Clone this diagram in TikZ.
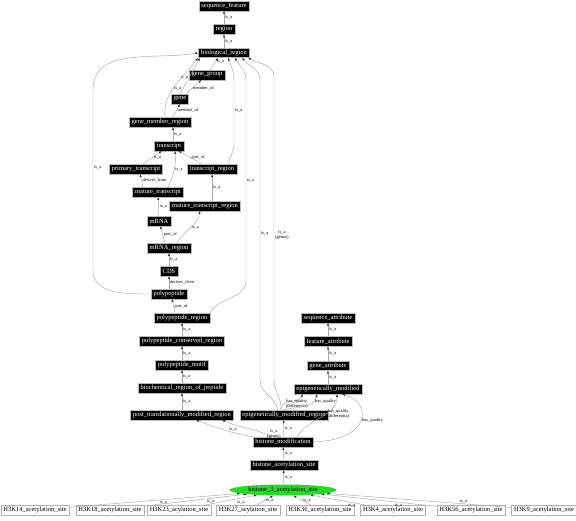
\documentclass[tikz,border=0pt]{standalone}
\usepackage{fontspec}
\setmainfont{Liberation Serif}
\usetikzlibrary{arrows.meta, shapes.geometric, positioning}

\definecolor{edgegray}{gray}{0.66}
\definecolor{hlgreen}{HTML}{22DD22}

\tikzset{
  term/.style={fill=black, draw=gray!55, text=white, font=\fontsize{6.5}{7}\selectfont,
    inner xsep=2.5pt, inner ysep=1pt, minimum height=9.5pt},
  leaf/.style={fill=white, draw=gray!60, text=black, font=\fontsize{6.5}{7}\selectfont,
    inner xsep=2.5pt, inner ysep=1pt, minimum height=9.5pt},
  focus/.style={ellipse, fill=hlgreen, text=black, font=\fontsize{6.5}{7}\selectfont,
    inner sep=0pt, minimum width=107pt, minimum height=11pt},
  conn/.style={color=edgegray, line width=0.45pt, -{Latex[length=3pt,width=2.2pt,color=black!80]}},
  lbl/.style={font=\fontsize{4.5}{5}\selectfont, inner sep=1pt, text=black},
}

\begin{document}
\begin{tikzpicture}[x=1pt, y=1pt]
  \useasboundingbox (0,0) rectangle (576,520);

  % terms of the ontology
  \node (seqf) [term] at (224,514) {sequence\_feature};
  \node (region) [term, below=13.5pt of seqf] {region};
  \node (bioreg) [term, below=13.5pt of region] {biological\_region};
  \node (genegrp) [term] at (207,445) {gene\_group};
  \node (gene) [term] at (180,421) {gene};
  \node (gmr) [term] at (160,398) {gene\_member\_region};
  \node (transcript) [term] at (169,374) {transcript};
  \node (primtr) [term] at (136,351) {primary\_transcript};
  \node (trreg) [term] at (212,351) {transcript\_region};
  \node (mattr) [term] at (158,328) {mature\_transcript};
  \node (mattrreg) [term] at (205,314) {mature\_transcript\_region};
  \node (mrna) [term] at (159,299) {mRNA};
  \node (mrnareg) [term] at (169,272) {mRNA\_region};
  \node (cds) [term] at (169,249) {CDS};
  \node (polyp) [term] at (169,226) {polypeptide};
  \node (ppreg) [term] at (182,202) {polypeptide\_region};
  \node (ppcons) [term] at (182,179) {polypeptide\_conserved\_region};
  \node (ppmotif) [term] at (182,155) {polypeptide\_motif};
  \node (biochem) [term] at (182,132) {biochemical\_region\_of\_peptide};
  \node (ptmr) [term] at (182,105) {post\_translationally\_modified\_region};
  \node (emr) [term] at (284,105) {epigenetically\_modified\_region};
  \node (histmod) [term] at (283,78) {histone\_modification};
  \node (hacs) [term] at (284,55) {histone\_acetylation\_site};
  \node (h3acs) [focus] at (283,30) {histone\_3\_acetylation\_site};

  \node (seqattr) [term] at (328,202) {sequence\_attribute};
  \node (featattr) [term, below=13.5pt of seqattr] {feature\_attribute};
  \node (geneattr) [term, below=14.5pt of featattr] {gene\_attribute};
  \node (epimod) [term, below=13.5pt of geneattr] {epigenetically\_modified};

  % acetylation sites
  \node (k14) [leaf] at (35,10) {H3K14\_acetylation\_site};
  \node (k18) [leaf] at (110,10) {H3K18\_acetylation\_site};
  \node (k23) [leaf] at (179,10) {H3K23\_acylation\_site};
  \node (k27) [leaf] at (248,10) {H3K27\_acylation\_site};
  \node (k36) [leaf] at (320,10) {H3K36\_acetylation\_site};
  \node (k4) [leaf] at (393,10) {H3K4\_acetylation\_site};
  \node (k56) [leaf] at (471,10) {H3K56\_acetylation\_site};
  \node (k9) [leaf] at (544,10) {H3K9\_acetylation\_site};

  \path [conn]
      (region) edge node[lbl,right] {is\_a} (seqf)
      (bioreg) edge node[lbl,right] {is\_a} (region)
      (genegrp) edge node[lbl,right,pos=0.7] {is\_a} ([xshift=-6pt]bioreg.south)
      (gene) edge node[lbl,right,pos=0.4] {member\_of} (genegrp)
      (gene.north) edge node[lbl,left,pos=0.45] {is\_a} ([xshift=-24pt]bioreg.south)
      ([xshift=13pt]gmr.north) edge node[lbl,right] {member\_of} (gene.south)
      ([xshift=5pt]gmr.north) edge[out=95,in=-125] node[lbl,right,pos=0.45] {is\_a} ([xshift=-26pt]bioreg.south)

      ([xshift=4pt]transcript.north) edge node[lbl,right] {is\_a} ([xshift=13pt]gmr.south)
      (primtr) edge node[lbl,right] {is\_a} (transcript)
      (trreg) edge node[lbl,right] {part\_of} (transcript)
      ([xshift=10pt]mattr.north) edge[bend right=15] node[lbl,right] {is\_a} ([xshift=6pt]transcript.south)
      ([xshift=-15pt]mattr.north) edge node[lbl,right] {derives\_from} ([xshift=4pt]primtr.south)
      (mattrreg.north -| trreg) edge node[lbl,right] {is\_a} (trreg)
      (mrna) edge node[lbl,right] {is\_a} (mattr)
      ([xshift=-4pt]mrnareg.north) edge node[lbl,right] {part\_of} (mrna)
      ([xshift=8pt]mrnareg.north) edge[out=60,in=-100] node[lbl,right] {is\_a} ([xshift=-5pt]mattrreg.south)
      (cds) edge node[lbl,right] {is\_a} (mrnareg)
      (polyp) edge node[lbl,right] {derives\_from} (cds)

      ([xshift=-7pt]ppreg.north) edge node[lbl,right] {part\_of} ([xshift=3pt]polyp.south)
      (ppcons) edge node[lbl,right] {is\_a} (ppreg)
      (ppmotif) edge node[lbl,right] {is\_a} (ppcons)
      (biochem) edge node[lbl,right] {is\_a} (ppmotif)
      (ptmr) edge node[lbl,right] {is\_a} (biochem)

      (epimod) edge node[lbl,right] {is\_a} (geneattr)
      (geneattr) edge node[lbl,right] {is\_a} (featattr)
      (featattr) edge node[lbl,right] {is\_a} (seqattr)

      (histmod) edge node[lbl,right] {is\_a} (emr)
      ([xshift=-30pt]histmod.north) edge[bend left=5] node[lbl,above,pos=0.33] {is\_a} ([xshift=14pt]ptmr.south)
      ([xshift=-12pt]histmod.north) edge[out=150,in=-25] node[lbl,align=center,right,pos=0.1] {is\_a\\(genus)} ([xshift=40pt]ptmr.south)
      ([xshift=-4pt]emr.north) edge[out=80,in=-120] node[lbl,align=center,right,pos=0.3] {has\_quality\\(differentia)} ([xshift=-25pt]epimod.south)
      ([xshift=-1pt]emr.north) edge[out=15,in=-100] node[lbl,right,pos=0.8] {has\_quality} ([xshift=-11pt]epimod.south)
      ([xshift=14pt]histmod.north) edge[out=60,in=-90] node[lbl,align=center,right,pos=0.6] {has\_quality\\(differentia)} ([xshift=9pt]epimod.south)

      (hacs) edge node[lbl,right] {is\_a} (histmod)
      (h3acs) edge node[lbl,right] {is\_a} (hacs)

      (k14) edge node[lbl,below,pos=0.55] {is\_a} (h3acs)
      (k18) edge node[lbl,below,pos=0.65] {is\_a} (h3acs)
      (k23) edge node[lbl,below right,pos=0.6] {is\_a} (h3acs)
      (k27) edge node[lbl,right,pos=0.5] {is\_a} (h3acs)
      (k36) edge node[lbl,right,pos=0.5] {is\_a} (h3acs)
      (k4) edge node[lbl,below,pos=0.25] {is\_a} (h3acs)
      (k56) edge node[lbl,below,pos=0.33] {is\_a} (h3acs)
      (k9) edge node[lbl,above,pos=0.26] {is\_a} (h3acs)
      ;

  % long connectors up to biological_region
  \draw [conn] (polyp.west) to[out=180,in=-90] (93,250)
      -- node[lbl,right,pos=0.57] {is\_a} (93,430) to[out=90,in=190] (bioreg.west);
  \draw [conn] ([xshift=-8pt]trreg.north east) to[out=90,in=-90] (234,375)
      -- node[lbl,right,pos=0.54] {is\_a} (234,440) to[out=90,in=-70] ([xshift=4pt]bioreg.south);
  \draw [conn] (ppreg.north east) to[out=60,in=-90] (246,240)
      -- node[lbl,right,pos=0.5] {is\_a} (246,440) to[out=90,in=-60] ([xshift=11pt]bioreg.south);
  \draw [conn] ([xshift=-6pt]emr.north) to[out=100,in=-90] (260,140)
      -- node[lbl,right,pos=0.49] {is\_a} (260,440) to[out=90,in=-50] ([xshift=18pt]bioreg.south);
  \draw [conn] ([xshift=-3pt]emr.north) to[out=85,in=-90] (274,140)
      -- node[lbl,right,align=center,pos=0.48] {is\_a\\(genus)} (274,443) to[out=90,in=-30] ([xshift=24pt]bioreg.south);
  \draw [conn] (histmod.east) .. controls (372,80) and (372,118) ..
      node[lbl,right] {has\_quality} ([xshift=14pt]epimod.south);
\end{tikzpicture}
\end{document}
